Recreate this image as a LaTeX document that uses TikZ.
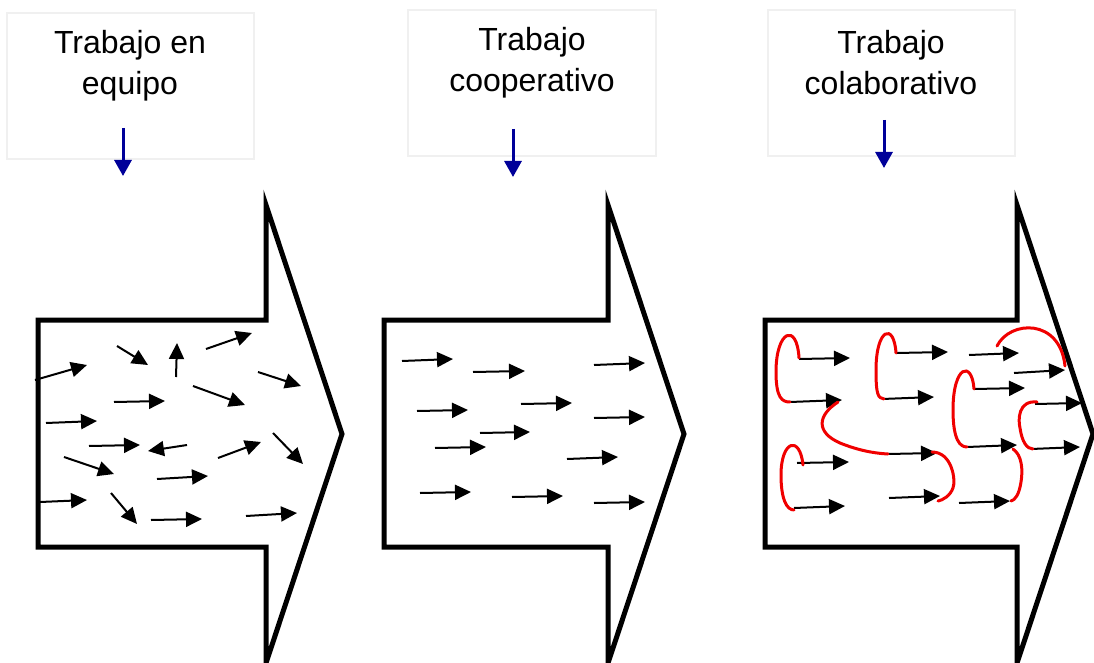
\documentclass[tikz,border=0pt]{standalone}
\usepackage{fontspec}
\setmainfont{Liberation Sans}
\usetikzlibrary{arrows.meta}
\definecolor{navy}{RGB}{0,0,153}
\definecolor{framegray}{RGB}{240,240,240}
\definecolor{loopred}{RGB}{240,0,0}

\begin{document}
\begin{tikzpicture}[x=1pt,y=-1pt,
  titlebox/.style={draw=framegray, line width=1.5pt, minimum width=247pt, minimum height=146pt, inner sep=0pt},
  titletext/.style={font=\fontsize{32}{41}\selectfont, align=center, inner sep=0pt},
  downarrow/.style={navy, line width=3pt, -{Triangle[length=16pt,width=17pt]}},
  bigarrow/.style={line width=5pt, line join=miter, miter limit=20},
  move/.style={line width=2pt, -{Triangle[length=16pt,width=15pt]}},
  link/.style={loopred, line width=3pt, line cap=round}]
\useasboundingbox (0,0) rectangle (1094,663);

% title boxes
\node[titlebox] (box1) at (130.5,86) {};
\node[titlebox, minimum width=248pt] (box2) at (532,83) {};
\node[titlebox] (box3) at (891.5,83) {};

\node[titletext] (t1) at (130,66) {Trabajo en\\equipo};
\node[titletext] (t2) at (532,63) {Trabajo\\cooperativo};
\node[titletext] (t3) at (891,63) {Trabajo\\colaborativo};

% pointers from the titles
\coordinate (s1) at (123,128); \coordinate (e1) at (123,176);
\coordinate (s2) at (513,129); \coordinate (e2) at (513,177);
\coordinate (s3) at (884,120); \coordinate (e3) at (884,168);
\draw[downarrow] (s1) -- (e1);
\draw[downarrow] (s2) -- (e2);
\draw[downarrow] (s3) -- (e3);

% large block arrows
\draw[bigarrow] (38,320) -- (266,320) -- (266,205) -- (342,434) -- (266,663) -- (266,547) -- (38,547) -- cycle;
\draw[bigarrow] (384,320) -- (608,320) -- (608,205) -- (684,434) -- (608,663) -- (608,547) -- (384,547) -- cycle;
\draw[bigarrow] (765,320) -- (1017,320) -- (1017,205) -- (1093,434) -- (1017,663) -- (1017,547) -- (765,547) -- cycle;

% team work: scattered directions
\foreach \ax/\ay/\bx/\by in {
  35/380/87/365, 117/346/148/365, 176/377/177/343, 206/349/252/333,
  258/372/301/386, 193/386/245/405, 114/402/165/401, 46/423/97/421,
  89/446/140/445, 187/445/148/451, 218/458/261/442, 273/433/303/464,
  64/457/114/474, 157/479/208/476, 40/502/87/500, 111/493/137/524,
  151/520/202/519, 246/516/297/513}
  \draw[move] (\ax,\ay) -- (\bx,\by);

% cooperative work: parallel directions
\foreach \ax/\ay/\bx/\by in {
  402/361/453/359, 473/372/525/371, 594/365/645/363, 417/411/468/410,
  521/404/572/403, 594/418/645/417, 480/433/530/432, 435/448/486/447,
  567/459/618/457, 420/493/471/492, 512/497/563/496, 594/503/645/502}
  \draw[move] (\ax,\ay) -- (\bx,\by);

% collaborative work: linked directions
\foreach \ax/\ay/\bx/\by in {
  799/359/850/358, 790/402/842/400, 896/353/948/352, 882/399/934/397,
  969/355/1019/353, 1014/373/1065/370, 974/389/1025/388, 1035/404/1082/403,
  1031/449/1080/447, 967/447/1017/445, 888/454/937/453, 797/463/849/462,
  794/508/845/506, 889/498/940/496, 959/503/1010/501}
  \draw[move] (\ax,\ay) -- (\bx,\by);

% links between the collaborative arrows
\draw[link] (799,358) .. controls (797,322) and (776,330) .. (776,372) .. controls (776,398) and (782,402) .. (790,402);
\draw[link] (896,353) .. controls (894,322) and (876,328) .. (876,370) .. controls (876,395) and (878,398) .. (884,399);
\draw[link] (838,402) .. controls (818,415) and (815,432) .. (840,443) .. controls (855,449) and (870,453) .. (888,454);
\draw[link] (997,346) .. controls (1010,320) and (1060,318) .. (1065,366);
\draw[link] (974,389) .. controls (972,360) and (953,365) .. (953,410) .. controls (953,440) and (960,447) .. (967,447);
\draw[link] (1037,402) .. controls (1018,400) and (1018,420) .. (1020,428) .. controls (1022,442) and (1027,449) .. (1033,449);
\draw[link] (803,465) .. controls (800,435) and (781,440) .. (781,475) .. controls (781,500) and (787,510) .. (794,510);
\draw[link] (932,452) .. controls (952,452) and (956,480) .. (953,488) .. controls (950,496) and (943,500) .. (938,501);
\draw[link] (1013,449) .. controls (1022,455) and (1023,470) .. (1021,482) .. controls (1019,495) and (1015,500) .. (1011,501);
\end{tikzpicture}
\end{document}
